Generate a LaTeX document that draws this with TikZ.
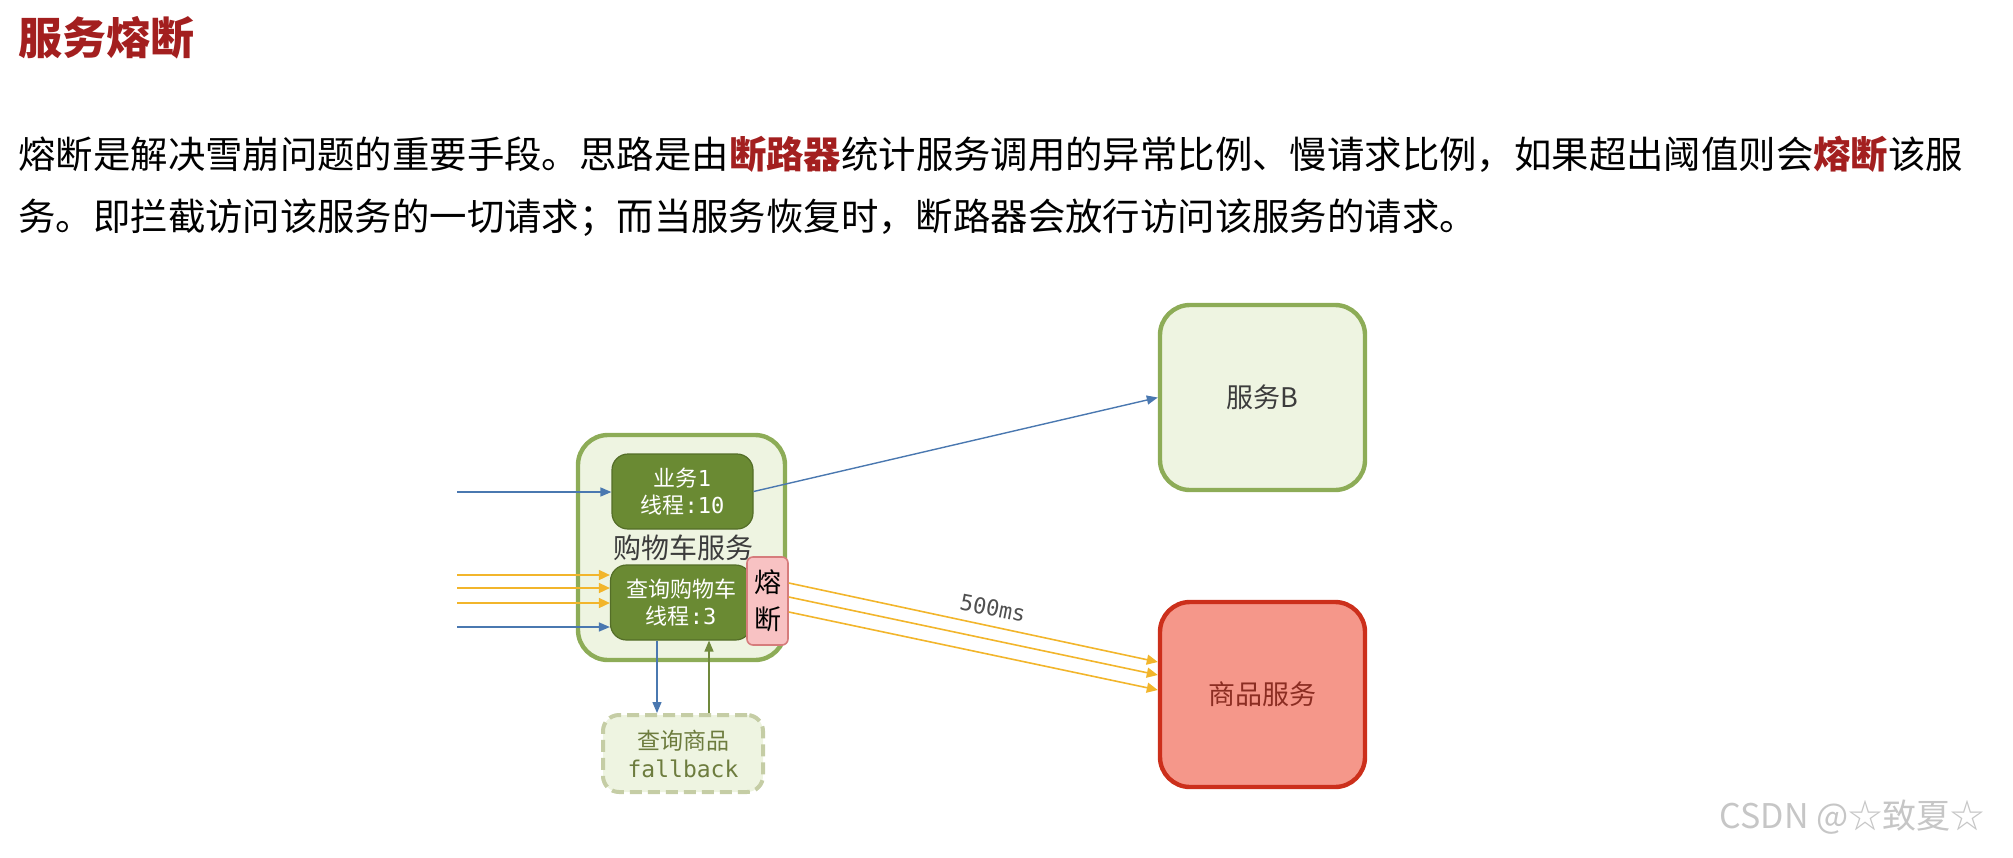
\documentclass[tikz,border=0pt]{standalone}
\usepackage{fontspec}
\setmainfont{Noto Sans CJK SC}
\setmonofont{DejaVu Sans Mono}
\usetikzlibrary{arrows.meta}

\definecolor{titlered}{RGB}{163,31,31}
\definecolor{okline}{RGB}{141,172,87}
\definecolor{okfill}{RGB}{238,244,225}
\definecolor{poolfill}{RGB}{106,138,51}
\definecolor{poolline}{RGB}{84,110,40}
\definecolor{fusefill}{RGB}{248,194,195}
\definecolor{fuseline}{RGB}{214,124,124}
\definecolor{badfill}{RGB}{245,151,138}
\definecolor{badline}{RGB}{204,47,27}
\definecolor{badtext}{RGB}{139,45,34}
\definecolor{callblue}{RGB}{74,120,176}
\definecolor{reqyellow}{RGB}{242,181,43}
\definecolor{fbline}{RGB}{197,205,165}
\definecolor{fbtext}{RGB}{109,124,62}
\definecolor{backgreen}{RGB}{112,137,60}
\definecolor{labelgray}{RGB}{60,60,60}

\newcommand\redword[1]{\textcolor{titlered}{\bfseries #1}}

\tikzset{
  para/.style={anchor=west,inner sep=0pt,font=\fontsize{18.7}{22}\selectfont},
  svcbox/.style={rounded corners=15pt,line width=2.2pt,minimum width=102.5pt,
    minimum height=92.5pt,font=\fontsize{13.5}{16}\selectfont},
  okbox/.style={svcbox,draw=okline,fill=okfill,text=labelgray},
  badbox/.style={svcbox,draw=badline,fill=badfill,text=badtext},
  poolbox/.style={rounded corners=8pt,draw=poolline,fill=poolfill,line width=0.6pt,
    text=white,align=center,minimum width=70.5pt,minimum height=37.5pt,
    font=\fontsize{11}{13.5}\selectfont},
  fusebox/.style={rounded corners=3pt,draw=fuseline,fill=fusefill,line width=0.8pt,
    align=center,minimum width=20.5pt,minimum height=44pt,inner sep=0pt,
    font=\fontsize{13.5}{18.5}\selectfont},
  fbbox/.style={rounded corners=8pt,draw=fbline,fill=okfill,line width=2pt,
    dash pattern=on 6pt off 3pt,text=fbtext,align=center,minimum width=80pt,
    minimum height=38.5pt,font=\fontsize{11.5}{14}\selectfont},
  callarrow/.style={draw=callblue,line width=0.7pt,-{Triangle[length=5.5pt,width=4.5pt]}},
  reqarrow/.style={draw=reqyellow,line width=0.8pt,-{Triangle[length=5.5pt,width=5pt]}},
  backarrow/.style={draw=backgreen,line width=0.7pt,-{Triangle[length=5.5pt,width=4.5pt]}}
}

\begin{document}
\begin{tikzpicture}[x=0.5pt,y=-0.5pt]
  \useasboundingbox (0,0) rectangle (2013,857);

  % heading and text
  \node[anchor=west,inner sep=0pt,text=titlered,font=\fontsize{22}{26}\selectfont\bfseries]
    (title) at (18,38) {服务熔断};
  \node[para] (line1) at (18,154)
    {熔断是解决雪崩问题的重要手段。思路是由\redword{断路器}统计服务调用的异常比例、慢请求比例，如果超出阈值则会\redword{熔断}该服};
  \node[para] (line2) at (18,218)
    {务。即拦截访问该服务的一切请求；而当服务恢复时，断路器会放行访问该服务的请求。};

  % services
  \node[okbox] (svcB) at (1262.5,397.5) {服务B};
  \node[badbox] (goods) at (1262.5,694.5) {商品服务};

  % cart service
  \node[draw=okline,fill=okfill,line width=2.2pt,rounded corners=15pt,
    minimum width=103.5pt,minimum height=112.5pt] (cart) at (681.5,547.5) {};
  \node[poolbox] (biz1) at (682.5,491.5) {业务{\ttfamily 1}\\线程{\ttfamily :10}};
  \node[poolbox] (query) at (681,602.5) {查询购物车\\线程{\ttfamily :3}};
  \node[text=labelgray,font=\fontsize{14}{16}\selectfont] (cartname) at (683,548) {购物车服务};
  \node[fusebox] (fuse) at (767.5,601) {熔\\断};
  \node[fbbox] (fallback) at (683,753.5) {查询商品\\{\ttfamily fallback}};

  % incoming requests
  \coordinate (inBiz) at (457,492);
  \coordinate (inA) at (457,575);
  \coordinate (inB) at (457,588);
  \coordinate (inC) at (457,603);
  \coordinate (inQuery) at (457,627);
  \draw[callarrow] (inBiz) -- (inBiz -| biz1.west);
  \draw[reqarrow] (inA) -- (inA -| query.west);
  \draw[reqarrow] (inB) -- (inB -| query.west);
  \draw[reqarrow] (inC) -- (inC -| query.west);
  \draw[callarrow] (inQuery) -- (inQuery -| query.west);

  % calls out
  \draw[callarrow] (biz1.east) -- (svcB.west);
  \draw[reqarrow] ([yshift=9pt]fuse.east) -- ([yshift=16.25pt]goods.west);
  \draw[reqarrow] ([yshift=2pt]fuse.east) -- ([yshift=9.75pt]goods.west);
  \draw[reqarrow] ([yshift=-5.5pt]fuse.east) -- ([yshift=2.25pt]goods.west);
  \node[rotate=-11,text=labelgray!90,font=\fontsize{11}{11}\ttfamily] (delay) at (993,608) {500ms};

  % fallback
  \draw[callarrow] ([xshift=-12pt]query.south) -- ([xshift=-12pt]query.south |- fallback.north);
  \draw[backarrow] ([xshift=13pt]fallback.north) -- ([xshift=13pt]fallback.north |- query.south);

  % watermark
  \node[text=gray!45,font=\fontsize{17}{17}\selectfont] (mark) at (1852,817) {CSDN @☆致夏☆};
\end{tikzpicture}
\end{document}
